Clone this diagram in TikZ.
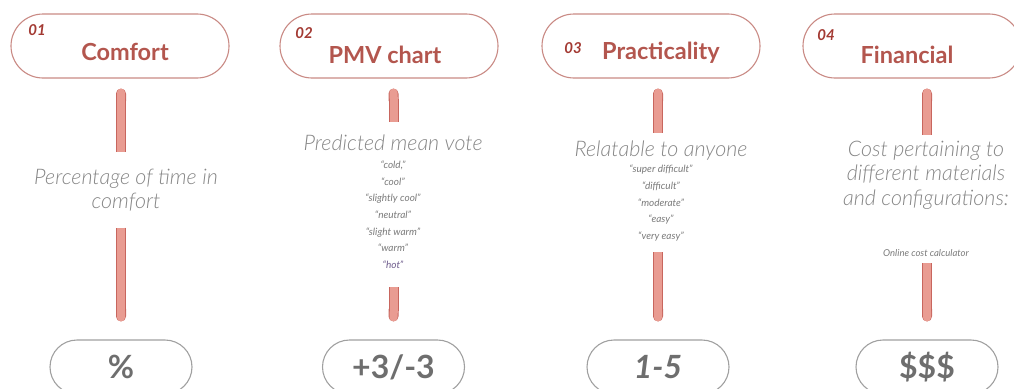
\documentclass[tikz,border=0pt]{standalone}
\usepackage{fontspec}
\setmainfont{Lato}
\newfontfamily\lightfont{Lato Light}
\usetikzlibrary{arrows.meta,calc}

\definecolor{boxred}{HTML}{C98A84}
\definecolor{titlered}{HTML}{B3564E}
\definecolor{numred}{HTML}{A33A33}
\definecolor{barline}{HTML}{C8665E}
\definecolor{barfill}{HTML}{E99C92}
\definecolor{greytext}{HTML}{868686}
\definecolor{listgrey}{HTML}{7A7A7A}
\definecolor{hotviolet}{HTML}{6E5C8C}
\definecolor{boxgrey}{HTML}{A0A0A0}
\definecolor{valgrey}{HTML}{6E6E6E}

% small list set as a stacked column with its own line pitch
\newcommand\scalelist[1]{\normalfont\itshape\fontsize{10}{16.7}\selectfont\color{listgrey}%
  \begin{tabular}[t]{@{}c@{}}#1\end{tabular}}

\begin{document}
\begin{tikzpicture}[x=1pt, y=-1pt,
  topbox/.style={draw=boxred, line width=1.1pt, rounded corners=32pt,
    minimum width=218pt, minimum height=64pt, inner sep=0pt},
  title/.style={font=\bfseries\fontsize{23.5}{27}\selectfont, text=titlered, inner sep=0pt},
  num/.style={font=\bfseries\itshape\fontsize{15}{17}\selectfont, text=numred, inner sep=0pt},
  desc/.style={font=\lightfont\itshape\fontsize{21.5}{24.5}\selectfont, text=greytext,
    align=center, inner sep=0pt},
  botbox/.style={draw=boxgrey, line width=1.1pt, rounded corners=27pt,
    minimum width=142pt, minimum height=54pt, inner sep=0pt},
  val/.style={font=\bfseries\fontsize{32}{35}\selectfont, text=valgrey},
  barout/.style={line width=10pt, draw=barline},
  barin/.style={line width=8pt, draw=barfill}]
\useasboundingbox (0,0) rectangle (1014,388);

% criteria boxes
\node[topbox] (t1) at (120,46) {};
\node[topbox] (t2) at (389,46) {};
\node[topbox] (t3) at (651,46) {};
\node[topbox] (t4) at (912,46) {};

\node[num] (n1) at (37,30) {01};
\node[num] (n2) at (304,33) {02};
\node[num] (n3) at (573,48) {03};
\node[num] (n4) at (826,35) {04};

\node[title] (h1) at (125,52) {Comfort};
\node[title] (h2) at (385,55) {PMV chart};
\node[title] (h3) at (661,53) {Practicality};
\node[title] (h4) at (907,55) {Financial};

% descriptions
\node[desc, minimum height=75pt] (d1) at (126,190) {Percentage of time in\\comfort};
\node[desc, minimum height=165pt] (d2) at (393,204.5)
  {Predicted mean vote\\[-7pt]\scalelist{“cold,”\\“cool”\\“slightly cool”\\“neutral”\\“slight warm”\\“warm”\\\textcolor{hotviolet}{“hot”}}};
\node[desc, minimum height=119pt] (d3) at (661,192.5)
  {Relatable to anyone\\[-8pt]\scalelist{“super difficult”\\“difficult”\\“moderate”\\“easy”\\“very easy”}};
\node[desc, minimum height=128pt] (d4) at (926,199)
  {Cost pertaining to\\different materials\\and configurations:\\[27pt]\normalfont\itshape\fontsize{9.5}{12}\selectfont\color{listgrey}Online cost calculator};

% scales
\node[botbox] (b1) at (121,367) {};
\node[botbox] (b2) at (393.5,367) {};
\node[botbox] (b3) at (658,367) {};
\node[botbox] (b4) at (927,367) {};

\node[val] (v1) at (b1.center) {\%};
\node[val] (v2) at (b2.center) {+3/-3};
\node[val, font=\bfseries\itshape\fontsize{32}{35}\selectfont] (v3) at (b3.center) {1-5};
\node[val] (v4) at (b4.center) {\$\$\$};

% connecting bars
\foreach \i in {1,2,3,4}{
  \draw[barout, {Round Cap[]}-] ($(b\i.north |- t\i.south)+(0,10)$) -- (b\i.north |- d\i.north);
  \draw[barin, {Round Cap[]}-] ($(b\i.north |- t\i.south)+(0,10)$) -- (b\i.north |- d\i.north);
  \draw[barout, -{Round Cap[]}] (b\i.north |- d\i.south) -- ($(b\i.north)+(0,-18)$);
  \draw[barin, -{Round Cap[]}] (b\i.north |- d\i.south) -- ($(b\i.north)+(0,-18)$);
}
\end{tikzpicture}
\end{document}
